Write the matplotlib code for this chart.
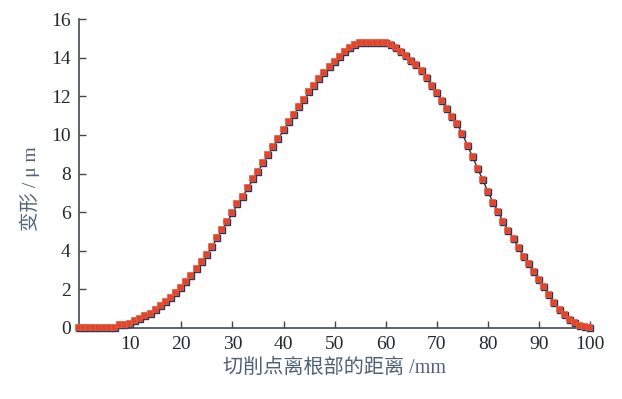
import matplotlib
matplotlib.use("Agg")
import matplotlib.pyplot as plt
import matplotlib.transforms as mtransforms

plt.rcParams['font.family'] = ['Liberation Serif', 'Noto Sans CJK SC', 'DejaVu Sans']

# Distance of the cutting point from the root (mm)
distance = list(range(0, 101))

# Deformation (μm) at each position
deformation = [
    0.0, 0.0, 0.0, 0.0, 0.0, 0.0, 0.0, 0.0, 0.15, 0.15,
    0.2, 0.35, 0.45, 0.6, 0.75, 0.95, 1.15, 1.35, 1.55, 1.8,
    2.05, 2.4, 2.7, 3.05, 3.4, 3.8, 4.2, 4.65, 5.1, 5.5,
    5.95, 6.4, 6.8, 7.25, 7.7, 8.1, 8.55, 8.95, 9.4, 9.8,
    10.25, 10.65, 11.05, 11.45, 11.8, 12.2, 12.55, 12.9, 13.2, 13.5,
    13.8, 14.05, 14.3, 14.5, 14.65, 14.75, 14.75, 14.75, 14.75, 14.75,
    14.75, 14.65, 14.5, 14.3, 14.1, 13.85, 13.6, 13.3, 12.95, 12.55,
    12.15, 11.75, 11.35, 10.95, 10.55, 10.05, 9.45, 8.85, 8.25, 7.65,
    7.05, 6.5, 6.0, 5.5, 5.05, 4.6, 4.15, 3.7, 3.3, 2.9,
    2.5, 2.1, 1.7, 1.3, 0.95, 0.65, 0.4, 0.25, 0.1, 0.05,
    0.0,
]

x_ticks = [10, 20, 30, 40, 50, 60, 70, 80, 90, 100]
y_ticks = [0, 2, 4, 6, 8, 10, 12, 14, 16]

fig = plt.figure(figsize=(6.22, 3.99), dpi=100)
ax = fig.add_axes([0.127, 0.178, 0.822, 0.774])

# dark underlying series
ax.plot(distance, deformation, color='#1f2f55', linewidth=1.0,
        marker='s', markersize=4.4, markerfacecolor='#2a3560',
        markeredgecolor='#2a3560', zorder=2, clip_on=False)
# red squares drawn slightly up-left of the dark ones
shift = mtransforms.offset_copy(ax.transData, fig=fig, x=-1.0, y=1.0, units='dots')
ax.plot(distance, deformation, linestyle='none', marker='s', markersize=4.4,
        markerfacecolor='#e2452c', markeredgecolor='#e8603a', markeredgewidth=0.5,
        transform=shift, zorder=3, clip_on=False)

ax.set_xlim(0, 100)
ax.set_ylim(0, 16)
ax.set_xticks(x_ticks)
ax.set_yticks(y_ticks)

for side in ('top', 'right'):
    ax.spines[side].set_visible(False)
for side in ('left', 'bottom'):
    ax.spines[side].set_color('#3d4a55')
    ax.spines[side].set_linewidth(1.2)

ax.tick_params(axis='both', direction='in', length=5, width=1.0, color='#3d4a55',
               labelsize=14, labelcolor='#25292d', pad=6)

ax.set_xlabel('切削点离根部的距离 /mm', fontsize=14.5, color='#4f6273', labelpad=4)
ax.set_ylabel('变形 / μ m', fontsize=14, color='#4f6273', labelpad=8)
ax.yaxis.label.set_y(0.45)

fig.savefig('out.png', dpi=100, facecolor='white')
